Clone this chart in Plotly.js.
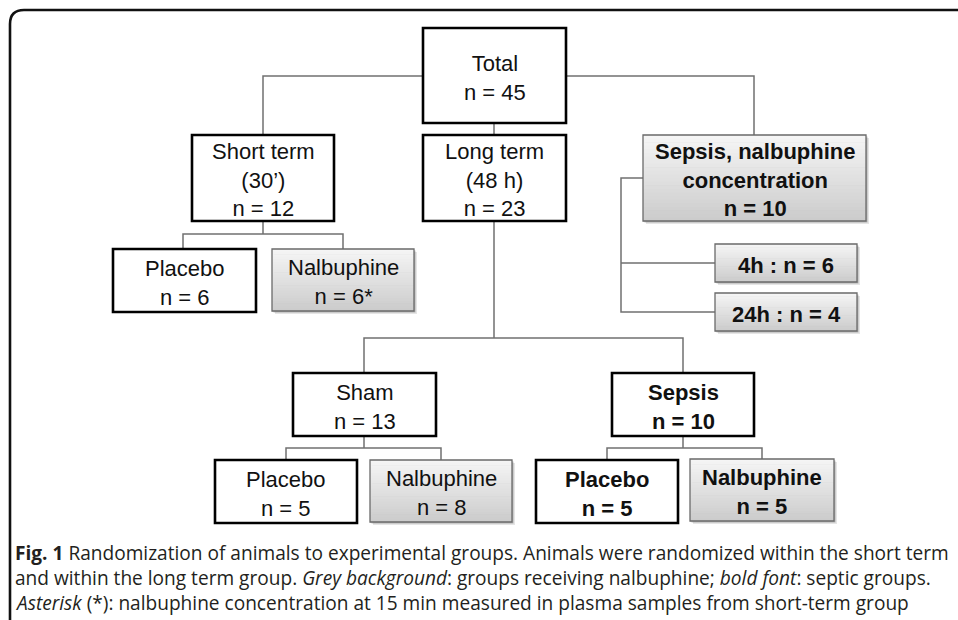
<!DOCTYPE html>
<html>
<head>
<meta charset="utf-8">
<script src="https://cdn.plot.ly/plotly-3.0.1.min.js"></script>
<style>
  html, body { margin: 0; padding: 0; background: #ffffff; }
  #chart { width: 958px; height: 620px; }
</style>
</head>
<body>
<div id="chart"></div>
<script>
// ---------------- DATA ----------------
const groupNames   = ["Total", "Short term", "Long term", "Sepsis, nalbuphine", "Placebo", "Nalbuphine", "4h", "24h", "Sham", "Sepsis", "Placebo", "Nalbuphine", "Placebo", "Nalbuphine"];
const groupDetails = ["", "(30’)", "(48 h)", "concentration", "", "", "", "", "", "", "", "", "", ""];
const groupN       = [45, 12, 23, 10, 6, 6, 6, 4, 13, 10, 5, 8, 5, 5];
const nMarks       = ["", "", "", "", "", "*", "", "", "", "", "", "", "", ""];
const getsNalbuphine = [false, false, false, true, false, true, true, true, false, false, false, true, false, true];
const isSeptic       = [false, false, false, true, false, false, true, true, false, true, false, false, true, true];
const inlineLabel    = [false, false, false, false, false, false, true, true, false, false, false, false, false, false];

const captionLines = [
  "<b>Fig. 1</b> Randomization of animals to experimental groups. Animals were randomized within the short term",
  "and within the long term group. <i>Grey background</i>: groups receiving nalbuphine; <i>bold font</i>: septic groups.",
  "<i>Asterisk</i> (*): nalbuphine concentration at 15 min measured in plasma samples from short-term group"
];

// ---------------- LAYOUT GEOMETRY (positions only) ----------------
const boxGeom = [
  [423, 566, 28, 123],   // Total
  [192, 334, 135, 221],  // Short term
  [423, 566, 135, 221],  // Long term
  [643, 866, 135, 221],  // Sepsis, nalbuphine concentration
  [113, 256, 249, 312],  // Placebo (short)
  [272, 414, 249, 311],  // Nalbuphine (short)
  [715, 857, 244, 282],  // 4h
  [715, 857, 293, 331],  // 24h
  [293, 436, 373, 436],  // Sham
  [612, 754, 373, 436],  // Sepsis
  [215, 357, 460, 523],  // Placebo (sham)
  [370, 512, 460, 522],  // Nalbuphine (sham)
  [536, 678, 460, 523],  // Placebo (sepsis)
  [690, 834, 459, 521]   // Nalbuphine (sepsis)
];
const connectorPaths = [
  "M423,76 L263,76 L263,135",
  "M566,76 L754,76 L754,135",
  "M494,123 L494,135",
  "M263,221 L263,234 M183,249 L183,234 L343,234 L343,249",
  "M494,221 L494,338 M364,373 L364,338 L683,338 L683,373",
  "M643,178 L621,178 L621,312 L715,312 M621,263 L715,263",
  "M364,436 L364,448 M286,460 L286,448 L441,448 L441,460",
  "M683,436 L683,448 M607,460 L607,448 L762,448 L762,460"
];

// ---------------- BUILD ----------------
const shapes = [];
const annotations = [];

// outer frame (rounded top-left corner)
shapes.push({type: "path", xref: "x", yref: "y", layer: "below",
  path: "M10,630 L10,24 Q10,10 24,10 L970,10",
  line: {color: "#111111", width: 2.6}});

connectorPaths.forEach(p => shapes.push({type: "path", xref: "x", yref: "y", path: p,
  line: {color: "#707070", width: 1.5}}));

function lerpGrey(t) {
  const top = 246, bot = 203;
  const v = Math.round(top + (bot - top) * t);
  return "rgb(" + v + "," + v + "," + v + ")";
}

groupNames.forEach((name, i) => {
  const [x0, x1, y0, y1] = boxGeom[i];
  if (getsNalbuphine[i]) {
    shapes.push({type: "rect", xref: "x", yref: "y", x0: x0 + 3, x1: x1 + 3, y0: y0 + 3, y1: y1 + 3,
      fillcolor: "rgba(0,0,0,0.10)", line: {width: 0}});
    shapes.push({type: "rect", xref: "x", yref: "y", x0: x0 + 1.5, x1: x1 + 1.5, y0: y0 + 1.5, y1: y1 + 1.5,
      fillcolor: "rgba(0,0,0,0.22)", line: {width: 0}});
    const n = 24;
    for (let k = 0; k < n; k++) {
      const ya = y0 + (y1 - y0) * k / n;
      const yb = y0 + (y1 - y0) * (k + 1) / n;
      shapes.push({type: "rect", xref: "x", yref: "y", x0: x0, x1: x1, y0: ya, y1: yb + 0.6,
        fillcolor: lerpGrey((k + 0.5) / n), line: {width: 0}});
    }
    shapes.push({type: "rect", xref: "x", yref: "y", x0: x0, x1: x1, y0: y0, y1: y1,
      fillcolor: "rgba(0,0,0,0)", line: {color: "#6a6a6a", width: 1.3}});
  } else {
    shapes.push({type: "rect", xref: "x", yref: "y", x0: x0, x1: x1, y0: y0, y1: y1,
      fillcolor: "#ffffff", line: {color: "#000000", width: 2.6}});
  }

  const nText = "n = " + groupN[i] + nMarks[i];
  let lines;
  if (inlineLabel[i]) lines = [name + " : " + nText];
  else lines = [name].concat(groupDetails[i] ? [groupDetails[i]] : []).concat([nText]);
  let txt = lines.join("<br>");
  if (isSeptic[i]) txt = "<b>" + lines.join("</b><br><b>") + "</b>";

  annotations.push({
    xref: "x", yref: "y",
    x: (x0 + x1) / 2, y: (y0 + y1) / 2 + 2,
    text: txt, showarrow: false,
    xanchor: "center", yanchor: "middle", align: "center",
    font: {family: "'Liberation Sans', Arial, Helvetica, sans-serif", size: 22, color: "#111111"}
  });
});

const captionY = [553, 578, 603];
captionLines.forEach((t, i) => {
  annotations.push({
    xref: "x", yref: "y", x: 13, y: captionY[i],
    text: t, showarrow: false, xanchor: "left", yanchor: "middle", align: "left",
    font: {family: "'Open Sans', sans-serif", size: 19.1, color: "#231f20"}
  });
});

const layout = {
  width: 958, height: 620,
  margin: {l: 0, r: 0, t: 0, b: 0, pad: 0},
  paper_bgcolor: "#ffffff", plot_bgcolor: "#ffffff",
  showlegend: false,
  xaxis: {range: [0, 958], visible: false, fixedrange: true},
  yaxis: {range: [620, 0], visible: false, fixedrange: true},
  shapes: shapes,
  annotations: annotations
};

Plotly.newPlot("chart", [], layout, {displayModeBar: false, staticPlot: true});
</script>
</body>
</html>
